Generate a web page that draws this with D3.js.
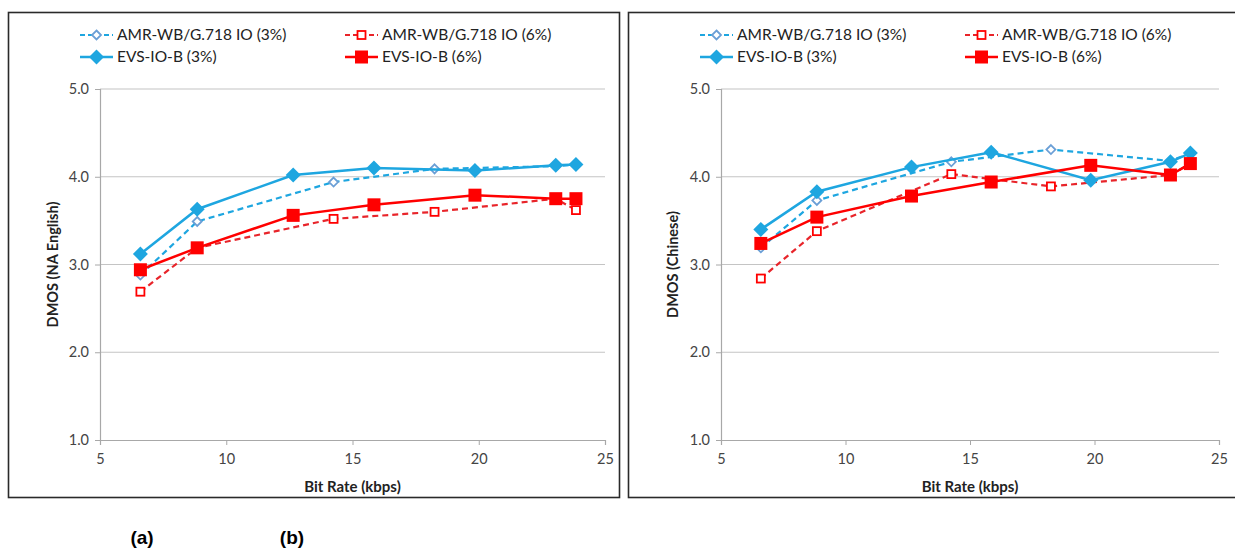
<!DOCTYPE html>
<html><head><meta charset="utf-8">
<script src="https://cdn.jsdelivr.net/npm/d3@7"></script>
<style>body{margin:0;background:#fff;} svg{display:block;}</style>
</head><body>
<svg id="c" width="1235" height="552"></svg>
<script>
// ---- data ----
const ratesEVS = [6.6, 8.85, 12.65, 15.85, 19.85, 23.05, 23.85];
const ratesAMR = [6.6, 8.85, 14.25, 18.25, 23.05, 23.85];

const amr3English = [2.88, 3.49, 3.94, 4.09, 4.12, 4.14];
const amr6English = [2.69, 3.19, 3.52, 3.60, 3.75, 3.62];
const evs3English = [3.12, 3.63, 4.02, 4.10, 4.07, 4.13, 4.14];
const evs6English = [2.94, 3.19, 3.56, 3.68, 3.79, 3.75, 3.75];

const amr3Chinese = [3.19, 3.73, 4.17, 4.31, 4.18, 4.27];
const amr6Chinese = [2.84, 3.38, 4.03, 3.89, 4.02, 4.15];
const evs3Chinese = [3.40, 3.83, 4.11, 4.28, 3.96, 4.17, 4.27];
const evs6Chinese = [3.24, 3.54, 3.78, 3.94, 4.13, 4.02, 4.15];

const seriesNames = ["AMR-WB/G.718 IO (3%)", "AMR-WB/G.718 IO (6%)", "EVS-IO-B (3%)", "EVS-IO-B (6%)"];
const xTicks = [5, 10, 15, 20, 25];
const yTicks = [1, 2, 3, 4, 5];
const yTitles = ["DMOS (NA English)", "DMOS (Chinese)"];
const xTitle = "Bit Rate (kbps)";
const captions = ["(a)", "(b)"];

// ---- styles ----
const BLUE = "#1ea6e0", BLUE_M = "#6b9fd6", RED = "#ff0000", RED_D = "#e8242a";
const styles = [
  {color: BLUE, dash: "6,4", width: 2.2, marker: "diamondHollow", mstroke: BLUE_M},
  {color: RED_D, dash: "6,4", width: 2.2, marker: "squareHollow", mstroke: RED},
  {color: BLUE, dash: null, width: 2.5, marker: "diamond", mstroke: BLUE},
  {color: RED, dash: null, width: 2.5, marker: "square", mstroke: RED}
];
const FONT = "Lato, 'Open Sans', sans-serif";

const svg = d3.select("#c");

function drawMarker(g, type, x, y, st) {
  if (type === "diamond") {
    g.append("path").attr("d", `M${x},${y-7.5}L${x+7.5},${y}L${x},${y+7.5}L${x-7.5},${y}Z`).attr("fill", st.mstroke);
  } else if (type === "square") {
    g.append("rect").attr("x", x-6.5).attr("y", y-6.5).attr("width", 13).attr("height", 13).attr("fill", st.mstroke);
  } else if (type === "diamondHollow") {
    g.append("path").attr("d", `M${x},${y-4.5}L${x+4.5},${y}L${x},${y+4.5}L${x-4.5},${y}Z`)
      .attr("fill", "#fff").attr("stroke", st.mstroke).attr("stroke-width", 1.8);
  } else {
    g.append("rect").attr("x", x-4).attr("y", y-4).attr("width", 8).attr("height", 8)
      .attr("fill", "#fff").attr("stroke", st.mstroke).attr("stroke-width", 1.8);
  }
}

function panel(cfg) {
  const g = svg.append("g");
  g.append("rect").attr("x", cfg.fx).attr("y", 12.5).attr("width", cfg.fw).attr("height", 485)
    .attr("fill", "#fff").attr("stroke", "#2a2a2a").attr("stroke-width", 1.6);

  const x = d3.scaleLinear().domain([5, 25]).range([cfg.x0, cfg.x1]);
  const y = d3.scaleLinear().domain([1, 5]).range([440, 89]);

  g.append("g").selectAll("line").data(yTicks.filter(d => d > 1)).join("line")
    .attr("x1", cfg.x0).attr("x2", cfg.x1).attr("y1", d => y(d)).attr("y2", d => y(d))
    .attr("stroke", "#c4c4c4").attr("stroke-width", 1.2);

  const yAxis = g.append("g").attr("transform", `translate(${cfg.x0},0)`)
    .call(d3.axisLeft(y).tickValues(yTicks).tickFormat(d3.format(".1f")).tickSize(5).tickPadding(6));
  const xAxis = g.append("g").attr("transform", `translate(0,${y(1)})`)
    .call(d3.axisBottom(x).tickValues(xTicks).tickSize(5).tickPadding(9));
  [yAxis, xAxis].forEach(a => {
    a.select(".domain").attr("stroke", "#a8a8a8").attr("stroke-width", 1.2);
    a.selectAll(".tick line").attr("stroke", "#a8a8a8");
    a.selectAll("text").attr("font-family", FONT).attr("font-size", 14.5).attr("fill", "#444");
  });

  g.append("text").attr("transform", `translate(${cfg.ytx},${(y(1)+y(5))/2}) rotate(-90)`)
    .attr("text-anchor", "middle").attr("font-family", FONT).attr("font-weight", "bold")
    .attr("font-size", 14.5).attr("fill", "#222").text(cfg.ytitle);
  g.append("text").attr("x", (cfg.x0+cfg.x1)/2).attr("y", 492).attr("text-anchor", "middle")
    .attr("font-family", FONT).attr("font-weight", "bold").attr("font-size", 15).attr("fill", "#222").text(xTitle);

  const line = d3.line().x(d => x(d[0])).y(d => y(d[1]));
  cfg.series.forEach((vals, i) => {
    const st = styles[i];
    const rates = i < 2 ? ratesAMR : ratesEVS;
    const pts = rates.map((r, k) => [r, vals[k]]);
    const sg = g.append("g");
    sg.append("path").attr("d", line(pts)).attr("fill", "none").attr("stroke", st.color)
      .attr("stroke-width", st.width).attr("stroke-dasharray", st.dash);
    pts.forEach(p => drawMarker(sg, st.marker, x(p[0]), y(p[1]), st));
  });

  const cols = [cfg.lx0, cfg.lx1], rows = [35, 57];
  seriesNames.forEach((name, i) => {
    const st = styles[i];
    const lx = cols[i % 2], ly = rows[Math.floor(i / 2)];
    const lg = g.append("g");
    lg.append("line").attr("x1", lx).attr("x2", lx + 33).attr("y1", ly).attr("y2", ly)
      .attr("stroke", st.color).attr("stroke-width", st.width).attr("stroke-dasharray", st.dash ? "5,3" : null);
    drawMarker(lg, st.marker, lx + 16.5, ly, st);
    lg.append("text").attr("x", lx + 37).attr("y", ly).attr("dy", "0.35em")
      .attr("font-family", FONT).attr("font-size", 15.5).attr("fill", "#222").text(name);
  });
}

panel({fx: 8.5, fw: 611, x0: 100, x1: 605, ytx: 58, ytitle: yTitles[0], lx0: 80, lx1: 345,
  series: [amr3English, amr6English, evs3English, evs6English]});
panel({fx: 628.5, fw: 620, x0: 721, x1: 1219, ytx: 678, ytitle: yTitles[1], lx0: 700, lx1: 965,
  series: [amr3Chinese, amr6Chinese, evs3Chinese, evs6Chinese]});

svg.append("text").attr("x", 142).attr("y", 544).attr("text-anchor", "middle")
  .attr("font-family", "Liberation Sans, Arial, sans-serif").attr("font-weight", "bold").attr("font-size", 19).text(captions[0]);
svg.append("text").attr("x", 292).attr("y", 544).attr("text-anchor", "middle")
  .attr("font-family", "Liberation Sans, Arial, sans-serif").attr("font-weight", "bold").attr("font-size", 19).text(captions[1]);
</script>
</body></html>
